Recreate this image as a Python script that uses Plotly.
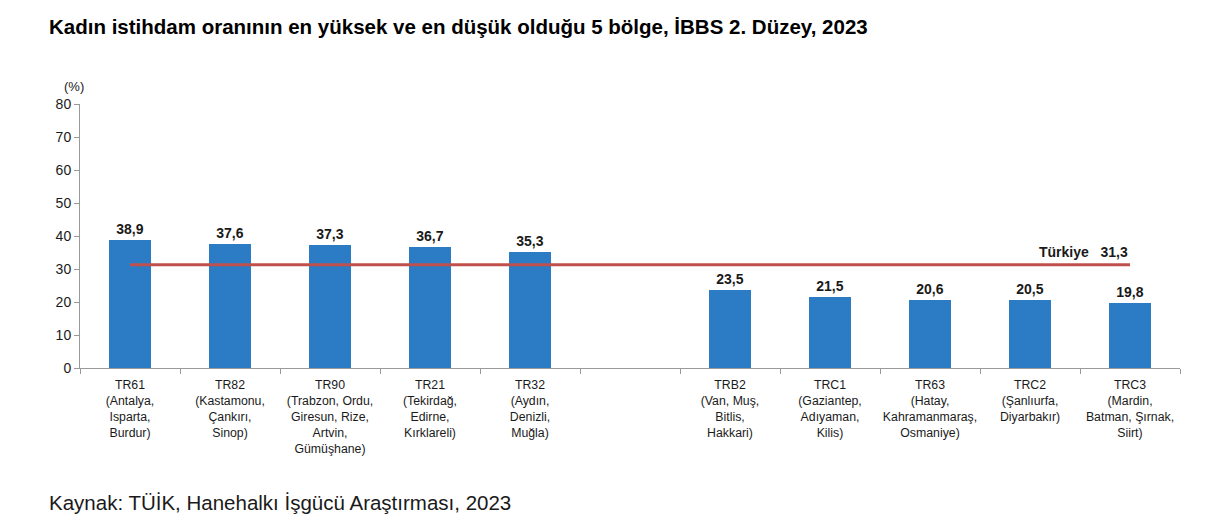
import plotly.graph_objects as go

codes = ["TR61", "TR82", "TR90", "TR21", "TR32", "TRB2", "TRC1", "TR63", "TRC2", "TRC3"]
provinces = [
    "(Antalya,<br>Isparta,<br>Burdur)",
    "(Kastamonu,<br>Çankırı,<br>Sinop)",
    "(Trabzon, Ordu,<br>Giresun, Rize,<br>Artvin,<br>Gümüşhane)",
    "(Tekirdağ,<br>Edirne,<br>Kırklareli)",
    "(Aydın,<br>Denizli,<br>Muğla)",
    "(Van, Muş,<br>Bitlis,<br>Hakkari)",
    "(Gaziantep,<br>Adıyaman,<br>Kilis)",
    "(Hatay,<br>Kahramanmaraş,<br>Osmaniye)",
    "(Şanlıurfa,<br>Diyarbakır)",
    "(Mardin,<br>Batman, Şırnak,<br>Siirt)",
]
values = [38.9, 37.6, 37.3, 36.7, 35.3, 23.5, 21.5, 20.6, 20.5, 19.8]
turkiye = 31.3
positions = [0, 1, 2, 3, 4, 6, 7, 8, 9, 10]
y_ticks = [0, 10, 20, 30, 40, 50, 60, 70, 80]

def fmt(v):
    return f"{v:.1f}".replace(".", ",")

fig = go.Figure()
fig.add_trace(go.Bar(
    x=positions, y=values, width=0.42,
    marker=dict(color="#2B7CC5", line=dict(width=0)),
    text=[fmt(v) for v in values], textposition="outside",
    textfont=dict(family="Arial", size=14, color="#1a1a1a"),
    texttemplate="<b>%{text}</b>", cliponaxis=False,
    showlegend=False, hoverinfo="skip",
))
fig.add_trace(go.Scatter(
    x=[positions[0], positions[-1]], y=[turkiye, turkiye], mode="lines",
    line=dict(color="#C0504D", width=3), showlegend=False, hoverinfo="skip",
))
fig.add_trace(go.Scatter(x=[positions[0]], y=[0], xaxis="x2", mode="markers",
                         marker=dict(opacity=0), showlegend=False, hoverinfo="skip"))

fig.add_annotation(x=positions[-1], y=turkiye, xref="x", yref="y",
                   text="<b>Türkiye   " + fmt(turkiye) + "</b>", showarrow=False,
                   xanchor="right", yanchor="bottom", yshift=3,
                   font=dict(family="Arial", size=14, color="#1a1a1a"))

fig.update_layout(
    width=1217, height=531,
    margin=dict(l=80, r=37, t=104, b=163),
    paper_bgcolor="white", plot_bgcolor="white",
    font=dict(family="Arial", color="#1a1a1a"),
    bargap=0,
    xaxis=dict(
        range=[-0.5, 10.5],
        tickmode="array", tickvals=positions,
        ticktext=[f"{c}<br>{p}" for c, p in zip(codes, provinces)],
        tickangle=0, ticks="", showgrid=False, zeroline=False,
        showline=True, linecolor="#9a9a9a", linewidth=1,
        tickfont=dict(family="Arial", size=12.3, color="#1a1a1a"),
        ticklabelstandoff=5,
        fixedrange=True,
    ),
    xaxis2=dict(
        overlaying="x", anchor="y", side="bottom", range=[-0.5, 10.5],
        tickmode="array", tickvals=[p + 0.5 for p in range(-1, 11)],
        ticks="outside", ticklen=5, tickcolor="#9a9a9a",
        showticklabels=False, showgrid=False, zeroline=False, showline=False,
    ),
    yaxis=dict(
        range=[0, 80], tickmode="array", tickvals=y_ticks,
        ticks="outside", ticklen=5, tickcolor="#9a9a9a",
        showgrid=False, zeroline=False,
        showline=True, linecolor="#9a9a9a", linewidth=1,
        tickfont=dict(family="Arial", size=14, color="#1a1a1a"),
    ),
)

fig.add_annotation(
    text="<b>Kadın istihdam oranının en yüksek ve en düşük olduğu 5 bölge, İBBS 2. Düzey, 2023</b>",
    xref="paper", yref="paper", x=-33 / 1100, y=1 + (104 - 27) / 264,
    xanchor="left", yanchor="middle", showarrow=False,
    font=dict(family="Arial", size=20.5, color="#000000"),
)
fig.add_annotation(
    text="(%)", xref="paper", yref="paper", x=6 / 1100, y=1 + (104 - 87) / 264,
    xanchor="right", yanchor="middle", showarrow=False,
    font=dict(family="Arial", size=13, color="#1a1a1a"),
)
fig.add_annotation(
    text="Kaynak: TÜİK, Hanehalkı İşgücü Araştırması, 2023",
    xref="paper", yref="paper", x=-33 / 1100, y=-(503 - 368) / 264,
    xanchor="left", yanchor="middle", showarrow=False,
    font=dict(family="Arial", size=20.5, color="#1a1a1a"),
)

fig.write_html("out.html")
